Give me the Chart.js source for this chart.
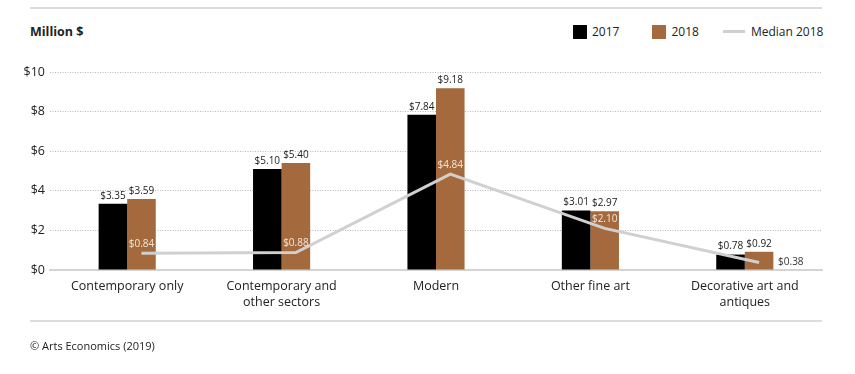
<!DOCTYPE html>
<html>
<head>
<meta charset="utf-8">
<script src="https://cdn.jsdelivr.net/npm/chart.js@4/dist/chart.umd.min.js"></script>
<style>
  body { margin: 0; background: #fff; font-family: "Open Sans", sans-serif; color: #222; }
  #wrap { position: relative; width: 855px; height: 374px; }
  #chart { position: absolute; left: 0; top: 0; }
  .rule { position: absolute; left: 30px; width: 792px; height: 2px; background: #dcdcdc; }
  #unit { position: absolute; left: 30px; top: 23px; font-weight: 700; font-size: 12.5px; }
  #legend { position: absolute; top: 23px; left: 573px; font-size: 12px; display: flex; align-items: center; white-space: nowrap; }
  .sw { width: 14px; height: 14px; margin-right: 5px; }
  .ln { width: 22px; height: 3px; background: #cfcfcf; margin-right: 6px; }
  #source { position: absolute; left: 30px; top: 338px; font-size: 11px; }
</style>
</head>
<body>
<div id="wrap">
  <div class="rule" style="top:7px"></div>
  <div id="unit">Million $</div>
  <div id="legend">
    <span class="sw" style="background:#000"></span><span style="margin-right:33px">2017</span>
    <span class="sw" style="background:#a46a3e"></span><span style="margin-right:24px">2018</span>
    <span class="ln"></span><span>Median 2018</span>
  </div>
  <canvas id="chart" width="855" height="374"></canvas>
  <div class="rule" style="top:320px"></div>
  <div id="source">© Arts Economics (2019)</div>
</div>
<script>
const categories = [
  'Contemporary only',
  ['Contemporary and', 'other sectors'],
  'Modern',
  'Other fine art',
  ['Decorative art and', 'antiques']
];
const sales2017 = [3.35, 5.10, 7.84, 3.01, 0.78];
const sales2018 = [3.59, 5.40, 9.18, 2.97, 0.92];
const median2018 = [0.84, 0.88, 4.84, 2.10, 0.38];
const yTicks = [0, 2, 4, 6, 8, 10];

const money = v => '$' + v.toFixed(2);

// move the median points over the 2018 bars and write the value labels
const labelPlugin = {
  id: 'labels',
  afterDatasetsUpdate(chart) {
    const line = chart.getDatasetMeta(0);
    const bars = chart.getDatasetMeta(2);
    line.data.forEach((pt, i) => { pt.x = bars.data[i].x; });
    delete line.dataset._path;
  },
  afterDatasetsDraw(chart) {
    const ctx = chart.ctx;
    ctx.save();
    ctx.font = '10px "Open Sans"';
    ctx.textAlign = 'center';
    ctx.textBaseline = 'bottom';
    ctx.fillStyle = '#222';
    [1, 2].forEach(d => {
      chart.getDatasetMeta(d).data.forEach((bar, i) => {
        ctx.fillText(money(chart.data.datasets[d].data[i]), bar.x, bar.y - 3);
      });
    });
    ctx.textBaseline = 'middle';
    const pts = chart.getDatasetMeta(0).data;
    pts.forEach((pt, i) => {
      const txt = money(median2018[i]);
      if (i === pts.length - 1) {
        ctx.fillStyle = '#333';
        ctx.textAlign = 'left';
        ctx.fillText(txt, pt.x + 19, pt.y);
      } else {
        ctx.fillStyle = '#f4e6d8';
        ctx.textAlign = 'center';
        ctx.fillText(txt, pt.x, pt.y - 9);
      }
    });
    ctx.restore();
  }
};

new Chart(document.getElementById('chart'), {
  type: 'bar',
  data: {
    labels: categories,
    datasets: [
      {
        type: 'line',
        label: 'Median 2018',
        data: median2018,
        borderColor: '#d0d0d0',
        borderWidth: 3,
        pointRadius: 0,
        tension: 0,
        order: 0
      },
      {
        label: '2017',
        data: sales2017,
        backgroundColor: '#000',
        order: 1
      },
      {
        label: '2018',
        data: sales2018,
        backgroundColor: '#a46a3e',
        order: 1
      }
    ]
  },
  options: {
    responsive: false,
    animation: false,
    events: [],
    layout: { padding: { left: 0, right: 33, top: 72, bottom: 54 } },
    datasets: { bar: { categoryPercentage: 0.37, barPercentage: 1 } },
    plugins: { legend: { display: false }, tooltip: { enabled: false } },
    scales: {
      x: {
        grid: { display: false },
        border: { display: true, color: '#d4d4d4', width: 2 },
        ticks: {
          color: '#222',
          padding: 0,
          maxRotation: 0,
          font: { family: 'Open Sans', size: 12.5, lineHeight: 1.3 }
        },
        afterFit(scale) { scale.height = 50; }
      },
      y: {
        min: 0,
        max: 10,
        afterBuildTicks(scale) { scale.ticks = yTicks.map(v => ({ value: v })); },
        grid: { color: '#b8b8b8', lineWidth: 1, drawTicks: false },
        border: { display: false, dash: [1, 1.5] },
        ticks: {
          color: '#222',
          padding: 5,
          font: { family: 'Open Sans', size: 12.5 },
          callback: v => '$' + v
        },
        afterFit(scale) { scale.width = 50; }
      }
    }
  },
  plugins: [labelPlugin]
});
</script>
</body>
</html>
